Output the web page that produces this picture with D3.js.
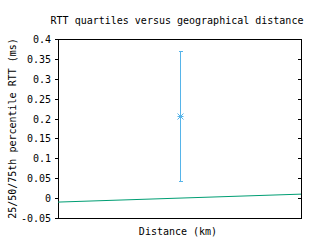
<!DOCTYPE html>
<html>
<head>
<meta charset="utf-8">
<script src="https://cdn.jsdelivr.net/npm/d3@7"></script>
<style>
  body { margin: 0; background: #fff; }
  text { font-family: "DejaVu Sans Mono", monospace; font-size: 10px; fill: #000; }
</style>
</head>
<body>
<svg id="chart" width="320" height="240"></svg>
<script>
// data
const distances = [1];
const q25 = [0.042];
const median = [0.206];
const q75 = [0.369];
const fitX = [0, 2];
const fitY = [-0.01, 0.01];
const yTicks = [-0.05, 0, 0.05, 0.1, 0.15, 0.2, 0.25, 0.3, 0.35, 0.4];

const svg = d3.select("#chart");
const margin = { left: 58, right: 19, top: 39, bottom: 22 };
const W = 320, H = 240;

const x = d3.scaleLinear().domain([0, 2]).range([margin.left, W - margin.right]);
const y = d3.scaleLinear().domain([-0.05, 0.4]).range([H - margin.bottom, margin.top]);

// frame
svg.append("rect")
  .attr("x", margin.left + 0.5).attr("y", margin.top + 0.5)
  .attr("width", W - margin.right - margin.left).attr("height", H - margin.bottom - margin.top)
  .attr("fill", "none").attr("stroke", "#000").attr("shape-rendering", "crispEdges");

// y ticks, small outward on left, mirrored inward on right
const ticks = svg.append("g").attr("shape-rendering", "crispEdges");
yTicks.forEach(t => {
  const yy = Math.round(y(t)) + 0.5;
  ticks.append("line").attr("x1", margin.left - 3).attr("x2", margin.left + 1)
    .attr("y1", yy).attr("y2", yy).attr("stroke", "#000");
  ticks.append("line").attr("x1", W - margin.right - 3).attr("x2", W - margin.right)
    .attr("y1", yy).attr("y2", yy).attr("stroke", "#000");
  svg.append("text").attr("x", margin.left - 7).attr("y", y(t) + 4)
    .attr("text-anchor", "end").text(d3.format("")(t).replace("\u2212", "-"));
});

// fit line
svg.append("line")
  .attr("x1", x(fitX[0])).attr("y1", y(fitY[0]))
  .attr("x2", x(fitX[1])).attr("y2", y(fitY[1]))
  .attr("stroke", "#009e73").attr("stroke-width", 1);

// quartile error bars
const blue = "#56b4e9";
const eb = svg.append("g").attr("shape-rendering", "crispEdges");
distances.forEach((d, i) => {
  const xx = Math.round(x(d)) + 0.5;
  eb.append("line").attr("x1", xx).attr("x2", xx)
    .attr("y1", y(q25[i])).attr("y2", y(q75[i])).attr("stroke", blue);
  [q25[i], q75[i]].forEach(v => {
    const yy = Math.round(y(v)) + 0.5;
    eb.append("line").attr("x1", xx - 2).attr("x2", xx + 2)
      .attr("y1", yy).attr("y2", yy).attr("stroke", blue);
  });
  const cy = Math.round(y(median[i])) + 0.5;
  const s = 3;
  eb.append("path")
    .attr("d", `M${xx - s},${cy}H${xx + s}M${xx},${cy - s}V${cy + s}M${xx - s},${cy - s}L${xx + s},${cy + s}M${xx - s},${cy + s}L${xx + s},${cy - s}`)
    .attr("stroke", blue).attr("fill", "none").attr("shape-rendering", "auto");
});

// titles
svg.append("text").attr("x", 177).attr("y", 24).attr("text-anchor", "middle")
  .text("RTT quartiles versus geographical distance");
svg.append("text").attr("x", 178).attr("y", 235).attr("text-anchor", "middle")
  .text("Distance (km)");
svg.append("text").attr("transform", `translate(16,${(margin.top + H - margin.bottom) / 2}) rotate(-90)`)
  .attr("text-anchor", "middle")
  .text("25/50/75th percentile RTT (ms)");
</script>
</body>
</html>
